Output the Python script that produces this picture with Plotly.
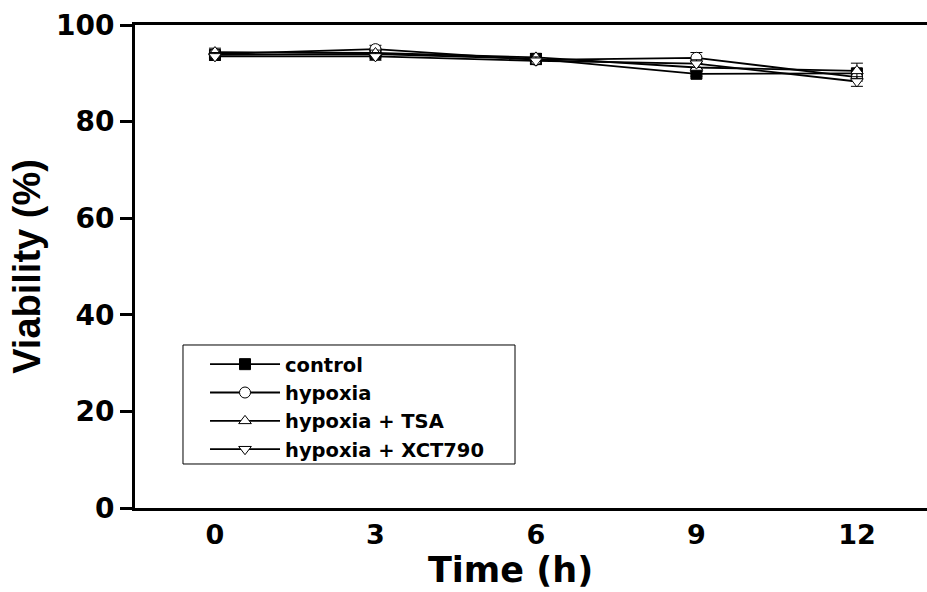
import plotly.graph_objects as go

time_h = [0, 3, 6, 9, 12]
series_names = ["control", "hypoxia", "hypoxia + TSA", "hypoxia + XCT790"]
control = [93.8, 94.0, 93.0, 89.9, 90.0]
hypoxia = [94.0, 95.0, 92.8, 93.2, 89.2]
hypoxia_tsa = [94.4, 94.2, 93.3, 91.2, 90.5]
hypoxia_xct = [93.5, 93.5, 92.6, 92.0, 88.3]
err_control = [0.6, 0.6, 0.6, 0.5, 0.6]
err_hypoxia = [0.8, 0.8, 0.8, 1.1, 0.8]
err_tsa = [0.8, 0.6, 0.8, 0.8, 1.6]
err_xct = [0.8, 0.8, 0.8, 0.8, 1.0]
y_ticks = [0, 20, 40, 60, 80, 100]
x_ticks = [0, 3, 6, 9, 12]
x_title = "Time (h)"
y_title = "Viability (%)"

WIDE = "DejaVu Sans, Verdana, sans-serif"
ARIAL = "Liberation Sans, Arial, sans-serif"

data = [control, hypoxia, hypoxia_tsa, hypoxia_xct]
errs = [err_control, err_hypoxia, err_tsa, err_xct]
symbols = ["square", "circle", "triangle-up", "triangle-down"]
fills = ["black", "white", "white", "white"]

fig = go.Figure()
for name, y, e, sym, fc in zip(series_names, data, errs, symbols, fills):
    fig.add_trace(go.Scatter(
        x=time_h, y=y, name=name, mode="lines+markers",
        line=dict(color="black", width=1.8),
        marker=dict(symbol=sym, size=11, color=fc, line=dict(color="black", width=1)),
        error_y=dict(type="data", array=e, visible=True, color="black", thickness=1, width=6),
    ))

# legend frame
fig.add_shape(type="rect", xref="paper", yref="paper",
              x0=0.0606, x1=0.4798, y0=0.0911, y1=0.3375,
              line=dict(color="black", width=1), fillcolor="white", layer="below")

# x-axis title as text annotation
fig.add_annotation(text=x_title, xref="paper", yref="paper",
                   x=0.4747, y=-0.1725, xanchor="center", yanchor="bottom",
                   showarrow=False, borderpad=0,
                   font=dict(family=WIDE, size=35, weight="bold", color="black"))

fig.update_layout(
    width=927, height=592,
    margin=dict(l=135, r=0, t=25, b=84),
    paper_bgcolor="white", plot_bgcolor="white",
    font=dict(family=WIDE, color="black"),
    showlegend=True,
    legend=dict(
        x=0.0884, y=0.3375, xanchor="left", yanchor="top",
        borderwidth=0, bgcolor="rgba(0,0,0,0)",
        font=dict(family=WIDE, size=19.5, weight="bold", color="black"),
        tracegroupgap=0, itemwidth=70,
    ),
    xaxis=dict(
        range=[-1.495, 13.31], tickvals=x_ticks, ticktext=[str(v) for v in x_ticks],
        showgrid=False, zeroline=False, showline=True, linecolor="black", linewidth=3,
        mirror=True, ticks="", ticklabelstandoff=1,
        tickfont=dict(family=WIDE, size=27, weight="bold", color="black"),
    ),
    yaxis=dict(
        range=[0, 100], tickvals=y_ticks,
        showgrid=False, zeroline=False, showline=True, linecolor="black", linewidth=3,
        ticks="outside", ticklen=12, tickwidth=3, tickcolor="black",
        tickfont=dict(family=WIDE, size=28, weight="bold", color="black"),
        title=dict(text=y_title, font=dict(family=ARIAL, size=38, weight="bold", color="black"), standoff=4),
    ),
)

fig.write_html("out.html")
